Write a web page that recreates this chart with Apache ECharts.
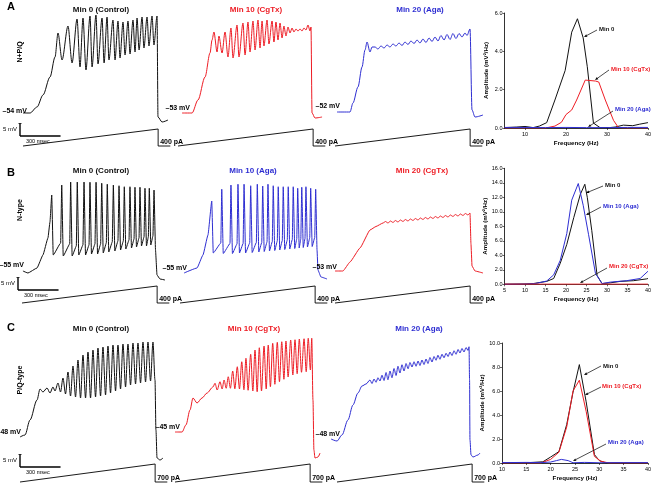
<!DOCTYPE html>
<html><head><meta charset="utf-8">
<script src="https://cdn.jsdelivr.net/npm/echarts@6/dist/echarts.min.js"></script>
<style>html,body{margin:0;padding:0;background:#fff}#c{width:654px;height:483px}</style>
</head><body><div id="c"></div>
<script>
// ---------- DATA: membrane potential traces (time ms, voltage mV) ----------
const A1_t = [0,52,104,148,200,237,259,289,333,363,400,422,444,466,496,511,540,555,585,600,622,636,666,681,703,718,740,755,777,792,814,829,844,859,881,895,918,932,955,969,992,999,1029,1073];
const A1_v = [-54,-54,-51.6,-46.8,-39.6,-31.6,-22,-32.8,-19.2,-34,-16.4,-35.6,-16,-36.8,-15.2,-35.6,-14.8,-34.4,-16,-34,-15.6,-32.8,-16.8,-32.8,-17.2,-32,-17.6,-30.8,-17.2,-30.4,-16.8,-29.6,-16,-28.8,-15.6,-28,-15.6,-27.2,-15.2,-26.8,-15.2,-55.6,-57.6,-56.8];
const A2_t = [30,104,148,200,237,252,266,289,303,326,348,370,392,407,437,451,481,496,518,533,555,570,592,607,622,636,659,673,696,710,725,740,755,770,784,799,814,829,844,858,873,888,903,918,932,947,962,977,984,992,1014,1066];
const A2_v = [-53,-53,-47.8,-38.6,-29,-23.8,-20.6,-28.6,-22.2,-29,-20.6,-30.6,-19,-31,-17.8,-30.6,-17,-29.8,-16.6,-28.6,-16.2,-27.8,-15.8,-27,-16.2,-26.2,-15.8,-25.4,-16.2,-24.6,-16.6,-23.8,-17,-23,-18.2,-22.2,-18.6,-21,-19,-20.6,-19.4,-20.2,-19.4,-20.2,-19,-19.8,-17.8,-20.2,-18.6,-53,-55,-54.6];
const A3_t = [15,111,133,170,200,222,237,259,274,296,318,340,363,385,407,429,451,474,496,518,540,562,585,607,629,651,673,696,718,740,762,784,807,829,851,873,895,918,940,962,977,999,1014,1036,1095];
const A3_v = [-52,-52,-48.4,-42,-34,-27.2,-24,-28,-26,-26.0,-26.8,-25.6,-26.4,-25.2,-26.0,-24.8,-25.6,-24.4,-25.4,-24.0,-25.0,-23.6,-24.6,-23.2,-24.4,-22.8,-24.2,-22.4,-23.8,-22.0,-23.6,-21.4,-23.2,-21.0,-23.0,-20.6,-22.6,-20.6,-22.0,-20.4,-21.4,-18.8,-51.2,-54,-53.2];

const B1_t = [7,44,111,155,192,207,220,231,286,294,305,353,360,371,402,409,420,451,459,470,496,503,514,540,548,559,582,590,601,624,631,642,668,676,687,710,718,729,750,757,768,792,799,810,829,836,847,866,873,884,903,910,921,935,942,953,969,977,988,999,1021,1058];
const B1_v = [-54.2,-55,-53,-47.8,-41,-34.6,-23.8,-47.8,-43,-19.8,-48.2,-43.4,-18.6,-48.2,-44.2,-18.6,-47.8,-43.8,-18.6,-47.8,-43.8,-18.7,-47.4,-43.4,-18.7,-47.4,-43.4,-19.1,-47,-43,-19.5,-46.6,-42.6,-19.8,-46.2,-42.2,-20.1,-45.8,-42.2,-20.5,-45.4,-41.8,-20.5,-45,-41.4,-20.7,-44.6,-41,-20.7,-44.2,-40.6,-21.1,-44.2,-40.6,-21.1,-43.8,-40.2,-21.8,-45.8,-55.8,-57.4,-57.8];
const B2_t = [30,126,170,207,235,246,302,309,320,370,377,388,422,429,440,467,474,485,516,523,534,565,572,583,605,612,623,644,651,662,683,690,701,720,727,738,757,764,775,794,801,812,831,838,849,864,871,882,894,901,912,925,932,943,960,967,978,997,1004,1014,1021,1043,1088];
const B2_v = [-55,-53,-47.8,-39.8,-26.2,-47,-43,-21.5,-47.2,-43.2,-19.8,-47.2,-43.4,-19.5,-47,-43.2,-19.5,-47,-43,-20.1,-46.8,-42.8,-19.5,-46.6,-42.8,-20.2,-46.4,-42.6,-19.5,-46.2,-42.4,-20.1,-46,-42.2,-20.5,-45.8,-42,-20.5,-45.6,-41.8,-20.5,-45.4,-41.6,-20.5,-45.2,-41.4,-21.1,-45,-41.4,-20.7,-44.8,-41.2,-20.5,-44.6,-41,-21.1,-44.4,-40.8,-21.5,-45.8,-53.8,-56.6,-57.4];
const B3_t = [0,59,111,185,259,303,355,374,392,411,429,447,466,484,503,521,540,558,577,595,614,632,651,669,688,706,725,743,762,780,799,817,836,854,873,891,910,928,947,965,984,999,1006,1014,1036,1095];
const B3_v = [-53,-53,-49.4,-43.8,-36.6,-35.2,-33.8,-33.2,-33.8,-33.0,-33.6,-32.8,-33.4,-32.6,-33.2,-32.4,-33.0,-32.2,-32.8,-32.0,-32.6,-31.8,-32.4,-31.6,-32.2,-31.4,-32.0,-31.2,-31.8,-31.0,-31.6,-30.8,-31.4,-30.6,-31.2,-30.4,-31.0,-30.2,-30.8,-30.0,-30.6,-29.8,-42,-51,-53,-53.8];

const C1_t = [0,37,74,126,148,170,200,222,244,259,281,300,318,337,355,374,392,411,429,448,466,485,503,522,540,559,577,596,614,633,651,670,688,707,725,744,762,781,799,818,836,855,873,892,910,929,947,966,984,999,1006,1014,1036,1058];
const C1_v = [-48,-47.2,-41.2,-33.2,-28.8,-30,-28.4,-30.4,-28,-29.6,-26.4,-30,-24.4,-30.8,-22,-31.6,-19.6,-32,-17.2,-32.4,-15.2,-32.4,-14,-32.4,-13.2,-32,-12.4,-31.6,-12,-31.2,-11.6,-30.4,-11.2,-29.6,-11.2,-28.8,-10.8,-28,-10.8,-27.2,-10.4,-26.8,-10.4,-26.4,-10,-26,-10,-25.6,-10,-25.2,-45.2,-56.4,-57.2,-56.4];
const C2_t = [0,52,81,111,133,163,200,237,281,296,312,333,349,363,379,394,410,427,443,461,477,494,510,525,541,560,576,592,608,624,640,659,675,690,706,723,739,757,773,790,806,821,837,856,872,888,904,920,936,955,971,986,1002,1012,1021,1028,1036,1058,1073];
const C2_v = [-45,-45,-42.2,-36.2,-31.4,-33.4,-31.4,-29.4,-27,-25.5,-28.2,-24.9,-27.8,-24.2,-27.5,-22.9,-27.5,-20.6,-27.7,-18.9,-27.8,-16.9,-28.1,-15.5,-28.3,-13.9,-28.6,-12.2,-28.9,-11.3,-28.6,-10.6,-27.8,-10.2,-26.9,-9.5,-25.9,-9.1,-24.9,-8.9,-23.9,-8.6,-23,-8.2,-22.2,-8.1,-21.7,-7.8,-21.1,-7.7,-20.9,-7.5,-20.2,-7.5,-32.2,-52.2,-55.4,-55,-53.4];
const C3_t = [-44,0,37,81,118,155,185,215,244,259,274,289,303,318,333,348,363,377,392,407,422,437,451,466,481,496,511,526,540,555,570,585,600,614,629,644,659,673,688,703,718,733,747,762,777,792,807,822,836,851,866,881,896,910,925,940,955,970,977,981,984,992,1006,1043,1058];
const C3_v = [-48,-48.8,-46.4,-40.4,-34.4,-29.6,-26.8,-26,-24.4,-25.8,-24.0,-25.3,-23.5,-24.8,-22.5,-24.6,-21.4,-24.3,-20.8,-23.5,-19.8,-22.6,-18.9,-21.6,-18.3,-20.8,-17.8,-19.9,-17.4,-19.2,-17.1,-18.9,-16.8,-18.6,-16.4,-18.2,-16.0,-17.8,-15.4,-17.2,-15.0,-16.5,-14.5,-16.1,-14.1,-15.5,-13.7,-15.0,-13.2,-14.6,-12.7,-14.1,-12.2,-13.6,-11.8,-13.2,-11.4,-12.6,-11.1,-24.4,-48.4,-54.4,-55.2,-54.4,-53.6];

// current ramp (ms, pA)
const ramp_t = [0,1000,1000,1090];
const ramp400 = [0,400,0,0];
const ramp700 = [0,700,0,0];

// ---------- DATA: power spectra (Hz, mV^2/Hz) ----------
const SA0_f = [5,8,10,12,13.5,15.3,17.3,19.8,21.4,22.8,24.2,25.2,26.7,28.3,30.6,32,34,36.3,38,40];
const SA0_a = [0.02,0.05,0.08,0.02,0.1,0.28,1.46,3.0,5.0,5.7,4.7,3.2,0.26,0.02,0.02,0.05,0.15,0.12,0.2,0.28];
const SA10_f = [5,15,17.3,18.9,20,21.4,22.6,24.7,27.2,28,29.6,31.6,32.8,35,40];
const SA10_a = [0,0,0.1,0.3,0.7,0.94,1.46,2.5,2.45,2.4,1.46,0.4,0.02,0,0];
const SA20_f = [5,10,15,20,25,30,35,40];
const SA20_a = [0.03,0.03,0.02,0.03,0.02,0.02,0.03,0.03];

const SB0_f = [5,10,12,15.3,17,18.6,20.2,21.9,23.5,24.6,25.2,26.3,27.6,28.8,30.8,33.2,36.5,39.7,40];
const SB0_a = [0.02,0.05,0.1,0.4,0.8,2.9,5.5,9.2,12.4,13.8,12,7.4,1.2,0.1,0.2,0.4,0.5,0.75,0.8];
const SB10_f = [5,10,12.5,15.3,17,18.6,20.2,21.4,23,24.2,25.5,27.2,28.8,30.8,34.8,38.1,40];
const SB10_a = [0,0.03,0.1,0.45,1.3,3.3,7,11.6,13.9,10.9,6.9,1.5,0.1,0.3,0.5,0.8,1.8];
const SB20_f = [5,10,20,30,40];
const SB20_a = [0.02,0.02,0.02,0.02,0.02];

const SC0_f = [10,15,18.4,20,21.7,23.3,24.6,25.9,27.3,29,30,31.4,35,40];
const SC0_a = [0,0.02,0.1,0.5,0.95,3.2,5.9,8.2,5.1,0.7,0.2,0,0,0];
const SC10_f = [10,18,20,21.7,23.3,24.6,25.9,27.3,29,30.3,32,40];
const SC10_a = [0,0,0.3,0.9,3.0,6.0,6.9,4.3,0.55,0.15,0,0];
const SC20_f = [10,15,18,20,21.2,22.2,23.6,24.6,27,30,35,40];
const SC20_a = [0.03,0.05,0.03,0.08,0.2,0.3,0.2,0.02,0.05,0.02,0.03,0.03];

// ---------- STYLE / LAYOUT ----------
const FONT = '"Liberation Sans", Arial, sans-serif';
const BLACK = '#111111', RED = '#ee1c24', BLUE = '#2e2ed2';
const MS_PER_PX = 7.4, PX_PER_MV = 2.5, X_MIN = -60, X_MAX = 1120;
const rows = {
  A: {top: 0, h: 160, zeroY: 146, stepY: 129, stepPA: 400, ramp: ramp400, stepLabel: '400 pA', smooth: 0.3},
  B: {top: 155, h: 160, zeroY: 303, stepY: 286, stepPA: 400, ramp: ramp400, stepLabel: '400 pA', smooth: 0.12},
  C: {top: 318, h: 165, zeroY: 482, stepY: 464, stepPA: 700, ramp: ramp700, stepLabel: '700 pA', smooth: 0.3}
};
const traces = [
  {row:'A', x0:23,  restY:113, vRest:-54, t:A1_t, v:A1_v, color:BLACK, lab:[27,111]},
  {row:'A', x0:178, restY:113, vRest:-53, t:A2_t, v:A2_v, color:RED,   lab:[190,108]},
  {row:'A', x0:335, restY:112, vRest:-52, t:A3_t, v:A3_v, color:BLUE,  lab:[340,106]},
  {row:'B', x0:22,  restY:273, vRest:-55, t:B1_t, v:B1_v, color:BLACK, lab:[24,265]},
  {row:'B', x0:180, restY:273, vRest:-55, t:B2_t, v:B2_v, color:BLUE,  lab:[187,268]},
  {row:'B', x0:335, restY:271, vRest:-53, t:B3_t, v:B3_v, color:RED,   lab:[337,267]},
  {row:'C', x0:20,  restY:437, vRest:-48, t:C1_t, v:C1_v, color:BLACK, lab:[21,432]},
  {row:'C', x0:175, restY:432, vRest:-45, t:C2_t, v:C2_v, color:RED,   lab:[180,427]},
  {row:'C', x0:337, restY:439, vRest:-48, t:C3_t, v:C3_v, color:BLUE,  lab:[340,434]}
];
const titles = [
  ['Min 0 (Control)',101,10,BLACK],['Min 10 (CgTx)',256,10,RED],['Min 20 (Aga)',420,10,BLUE],
  ['Min 0 (Control)',101,171,BLACK],['Min 10 (Aga)',253,171,BLUE],['Min 20 (CgTx)',422,171,RED],
  ['Min 0 (Control)',101,329,BLACK],['Min 10 (CgTx)',254,329,RED],['Min 20 (Aga)',419,329,BLUE]
];
const panelLetters = [['A',11,7],['B',11,173],['C',11,328]];
const rowLabels = [['N+P/Q',20,52],['N-type',20,210],['P/Q-type',20,380]];
const scaleBars = [[20,136],[18,290],[20,467]];
const SCALE_MV = 5, SCALE_MS = 300;

const spectra = [
  {left:504.5, top:13, width:143.5, height:115, xMin:5, xMax:40, xVals:[10,20,30,40], yMax:6,
   lines:[[SA0_f,SA0_a,BLACK],[SA10_f,SA10_a,RED],[SA20_f,SA20_a,BLUE]],
   notes:[['Min 0',599,29,BLACK,597,30,584,37],['Min 10 (CgTx)',611,69,RED,609,70,595,80],['Min 20 (Aga)',615,109,BLUE,613,111,588,127]]},
  {left:504.5, top:168.3, width:144, height:116, xMin:5, xMax:40, xVals:[5,10,15,20,25,30,35,40], yMax:16,
   lines:[[SB0_f,SB0_a,BLACK],[SB10_f,SB10_a,BLUE],[SB20_f,SB20_a,RED]],
   notes:[['Min 0',605,185,BLACK,603,186,586,193],['Min 10 (Aga)',603,206,BLUE,601,207,586,215],['Min 20 (CgTx)',609,266,RED,607,268,580,283]]},
  {left:502, top:343, width:146, height:120, xMin:10, xMax:40, xVals:[10,15,20,25,30,35,40], yMax:10,
   lines:[[SC0_f,SC0_a,BLACK],[SC10_f,SC10_a,RED],[SC20_f,SC20_a,BLUE]],
   notes:[['Min 0',603,366,BLACK,601,366,584,375],['Min 10 (CgTx)',602,386,RED,601,387,585,395],['Min 20 (Aga)',608,442,BLUE,606,444,573,461]]}
];

// ---------- BUILD ----------
const grids=[], xAxes=[], yAxes=[], series=[], graphics=[];
function txt(text,x,y,fill,font,align,valign,rot){
  return {type:'text', x:x, y:y, rotation:rot||0, z:100,
    style:{text:text, fill:fill, font:font, align:align||'left', textAlign:align||'left',
      verticalAlign:valign||'middle', textVerticalAlign:valign||'middle'}};
}
function arrow(x1,y1,x2,y2){
  const a=Math.atan2(y2-y1,x2-x1), L=3.2, W=1.3;
  const bx=x2-L*Math.cos(a), by=y2-L*Math.sin(a);
  graphics.push({type:'line', z:100, shape:{x1:x1,y1:y1,x2:bx,y2:by}, style:{stroke:'#000', lineWidth:0.7}});
  graphics.push({type:'polygon', z:100, shape:{points:[[x2,y2],[bx+W*Math.sin(a),by-W*Math.cos(a)],[bx-W*Math.sin(a),by+W*Math.cos(a)]]}, style:{fill:'#000'}});
}

traces.forEach(tr=>{
  const r = rows[tr.row];
  const gi = grids.length;
  grids.push({left: tr.x0 + X_MIN/MS_PER_PX, top: r.top, width: (X_MAX-X_MIN)/MS_PER_PX, height: r.h});
  xAxes.push({type:'value', gridIndex:gi, min:X_MIN, max:X_MAX, show:false});
  const vMax = tr.vRest + (tr.restY - r.top)/PX_PER_MV;
  const yi = yAxes.length;
  yAxes.push({type:'value', gridIndex:gi, max:vMax, min:vMax - r.h/PX_PER_MV, show:false});
  const pApp = r.stepPA/(r.zeroY - r.stepY);
  const pMax = (r.zeroY - r.top)*pApp;
  yAxes.push({type:'value', gridIndex:gi, max:pMax, min:pMax - r.h*pApp, show:false});
  series.push({type:'line', xAxisIndex:gi, yAxisIndex:yi, data: tr.t.map((t,i)=>[t,tr.v[i]]),
    symbol:'none', clip:false, silent:true, smooth:r.smooth, smoothMonotone:'x',
    lineStyle:{color:tr.color, width:1}});
  series.push({type:'line', xAxisIndex:gi, yAxisIndex:yi+1, data: ramp_t.map((t,i)=>[t,r.ramp[i]]),
    symbol:'none', clip:false, silent:true, lineStyle:{color:'#000', width:0.9}});
  graphics.push(txt('\u2013'+Math.abs(tr.vRest)+' mV', tr.lab[0], tr.lab[1], '#000', 'bold 7px '+FONT, 'right'));
  graphics.push(txt(r.stepLabel, tr.x0 + 1000/MS_PER_PX + 2, r.zeroY - 4, '#000', 'bold 7px '+FONT, 'left'));
});

spectra.forEach(sp=>{
  const gi = grids.length;
  grids.push({left:sp.left, top:sp.top, width:sp.width, height:sp.height});
  xAxes.push({type:'value', gridIndex:gi, min:sp.xMin, max:sp.xMax, interval:5,
    axisLine:{show:true, onZero:false, lineStyle:{color:'#000', width:0.8}},
    axisTick:{show:true, length:2, customValues:sp.xVals, lineStyle:{color:'#000', width:0.6}},
    axisLabel:{show:true, customValues:sp.xVals, fontSize:5.5, color:'#000', margin:3, fontFamily:FONT},
    splitLine:{show:false},
    name:'Frequency (Hz)', nameLocation:'middle', nameGap:12,
    nameTextStyle:{fontSize:6.2, fontWeight:'bold', fontFamily:FONT, color:'#000'}});
  const yi = yAxes.length;
  yAxes.push({type:'value', gridIndex:gi, min:0, max:sp.yMax, interval:2,
    axisLine:{show:true, onZero:false, lineStyle:{color:'#000', width:0.8}},
    axisTick:{show:true, length:2, lineStyle:{color:'#000', width:0.6}},
    axisLabel:{fontSize:5.5, color:'#000', margin:2, fontFamily:FONT, formatter:v=>v.toFixed(1)},
    splitLine:{show:false},
    name:'Amplitude (mV\u00B2/Hz)', nameLocation:'middle', nameGap:15,
    nameTextStyle:{fontSize:6.2, fontWeight:'bold', fontFamily:FONT, color:'#000'}});
  sp.lines.forEach(l=>{
    series.push({type:'line', xAxisIndex:gi, yAxisIndex:yi, data:l[0].map((f,i)=>[f,l[1][i]]),
      symbol:'none', silent:true, lineStyle:{color:l[2], width:1}});
  });
  sp.notes.forEach(n=>{
    graphics.push(txt(n[0], n[1], n[2], n[3], 'bold 6px '+FONT, 'left'));
    arrow(n[4],n[5],n[6],n[7]);
  });
});

titles.forEach(t=>graphics.push(txt(t[0],t[1],t[2],t[3],'bold 8px '+FONT,'center')));
panelLetters.forEach(p=>graphics.push(txt(p[0],p[1],p[2],'#000','bold 11px '+FONT,'center')));
rowLabels.forEach(p=>graphics.push(txt(p[0],p[1],p[2],'#000','bold 7px '+FONT,'center','middle',Math.PI/2)));
scaleBars.forEach(s=>{
  const cx=s[0], cy=s[1], h=SCALE_MV*PX_PER_MV, w=SCALE_MS/MS_PER_PX;
  graphics.push({type:'line', z:100, shape:{x1:cx,y1:cy,x2:cx,y2:cy-h}, style:{stroke:'#000', lineWidth:1.4}});
  graphics.push({type:'line', z:100, shape:{x1:cx-1.5,y1:cy-h,x2:cx+1.5,y2:cy-h}, style:{stroke:'#000', lineWidth:0.8}});
  graphics.push({type:'line', z:100, shape:{x1:cx,y1:cy,x2:cx+w,y2:cy}, style:{stroke:'#000', lineWidth:1.4}});
  graphics.push(txt('5 mV', cx-3, cy-h/2, '#000', '6px '+FONT, 'right'));
  graphics.push(txt('300 msec', cx+6, cy+5, '#000', '5.5px '+FONT, 'left'));
});

const chart = echarts.init(document.getElementById('c'), null, {renderer:'canvas'});
chart.setOption({animation:false, backgroundColor:'#fff', grid:grids, xAxis:xAxes, yAxis:yAxes, series:series, graphic:graphics});
</script></body></html>
